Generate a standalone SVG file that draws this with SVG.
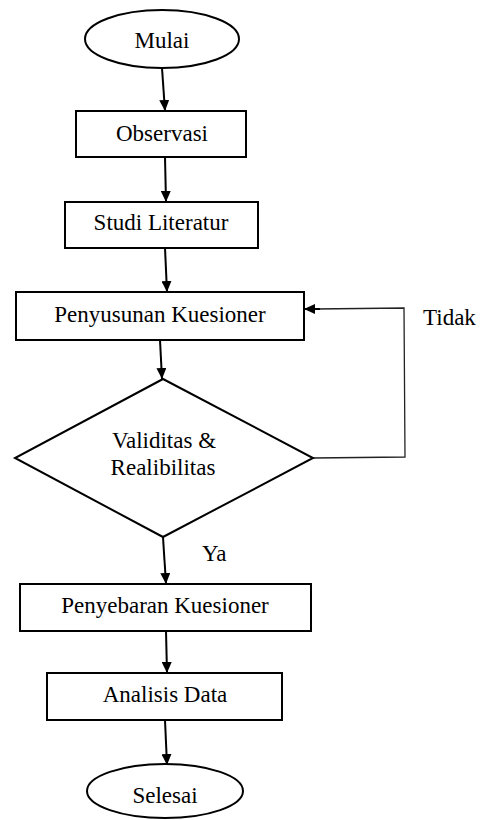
<svg xmlns="http://www.w3.org/2000/svg" width="486" height="820" viewBox="0 0 486 820">
<defs>
<marker id="ah" markerUnits="userSpaceOnUse" markerWidth="12" markerHeight="10" refX="11" refY="5" orient="auto">
<path d="M0,0 L11,5 L0,10 z" fill="#000"/>
</marker>
<style>
.shape{fill:#fff;stroke:#000;stroke-width:2}
.t{font-family:"Liberation Serif","Times New Roman",serif;font-size:23px;fill:#000;text-anchor:middle}
.ts{font-family:"Liberation Serif","Times New Roman",serif;font-size:23px;fill:#000}
.c{fill:none;stroke:#000;stroke-width:2;marker-end:url(#ah)}
.fb{fill:none;stroke:#222;stroke-width:1.3}
</style>
</defs>
<rect width="486" height="820" fill="#fff"/>
<g id="connectors">
<line class="c" x1="162" y1="68" x2="165" y2="111"/>
<line class="c" x1="165" y1="157" x2="166" y2="202"/>
<line class="c" x1="165" y1="248" x2="167" y2="292"/>
<line class="c" x1="160" y1="340" x2="162" y2="379"/>
<line class="c" x1="163" y1="537" x2="166" y2="584"/>
<line class="c" x1="166" y1="631" x2="167" y2="673"/>
<line class="c" x1="165" y1="720" x2="167" y2="765"/>
<polyline class="fb" points="313,458 405,457 404,308 315,309"/>
<line class="c" x1="320" y1="309" x2="304" y2="309"/>
<text class="ts" x="202" y="561">Ya</text>
<text class="ts" x="423" y="325">Tidak</text>
</g>
<g id="mulai">
<ellipse class="shape" cx="162" cy="39" rx="77" ry="29"/>
<text class="t" x="162" y="48">Mulai</text>
</g>
<g id="observasi">
<rect class="shape" x="76" y="111" width="170" height="46"/>
<text class="t" x="162" y="141">Observasi</text>
</g>
<g id="studi">
<rect class="shape" x="65" y="202" width="193" height="46"/>
<text class="t" x="161" y="230">Studi Literatur</text>
</g>
<g id="penyusunan">
<rect class="shape" x="16" y="292" width="288" height="48"/>
<text class="t" x="160" y="322">Penyusunan Kuesioner</text>
</g>
<g id="validitas">
<polygon class="shape" points="163,379 313,458 163,537 15,458"/>
<text class="t" x="164" y="448">Validitas &amp;</text>
<text class="t" x="163" y="475">Realibilitas</text>
</g>
<g id="penyebaran">
<rect class="shape" x="20" y="584" width="291" height="47"/>
<text class="t" x="165" y="613">Penyebaran Kuesioner</text>
</g>
<g id="analisis">
<rect class="shape" x="47" y="673" width="235" height="47"/>
<text class="t" x="165" y="702">Analisis Data</text>
</g>
<g id="selesai">
<ellipse class="shape" cx="165" cy="791" rx="78" ry="27"/>
<text class="t" x="165" y="803">Selesai</text>
</g>
</svg>
